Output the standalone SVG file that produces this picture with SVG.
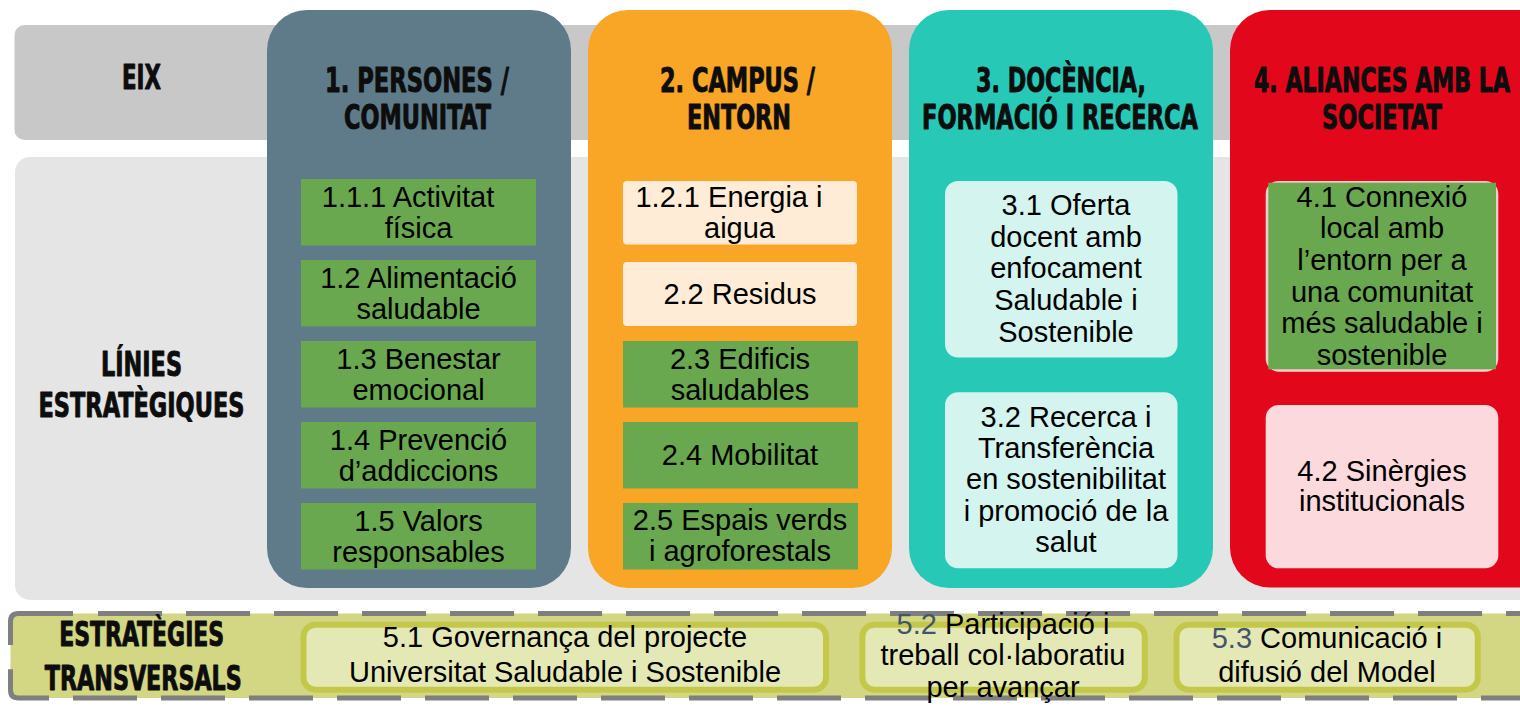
<svg xmlns="http://www.w3.org/2000/svg" width="1520" height="706" viewBox="0 0 1520 706">
<style>
.hdr{font-family:"DejaVu Sans Condensed","DejaVu Sans",sans-serif;font-weight:700;font-size:33px;fill:#0d0d0d;stroke:#0d0d0d;stroke-width:0.9;stroke-linejoin:round;text-anchor:middle}
.t{font-family:"Liberation Sans",Arial,sans-serif;font-size:29px;fill:#000;text-anchor:middle}
.g{fill:#6aa84f}
.cream{fill:#ffecd6}
.teal{fill:#d3f4ef}
.pink{fill:#fcd9dc}
.col{stroke:none}
.dash{fill:none;stroke:#7f7f7f;stroke-width:5}
.sbox{fill:#e4e8b5;stroke:#c3c84b;stroke-width:6}
.num{fill:#44546a}
</style>
<rect width="1520" height="706" fill="#ffffff"/>
<g id="bands">
<rect x="14.5" y="25" width="1530" height="115" rx="10" fill="#c9c8c9"/>
<rect x="15" y="157" width="1530" height="443" rx="15" fill="#e5e5e5"/>
</g>
<g id="row-labels">
<text class="hdr" x="141.5" y="88.5" textLength="39" lengthAdjust="spacingAndGlyphs">EIX</text>
<text class="hdr" x="141.5" y="376" textLength="81" lengthAdjust="spacingAndGlyphs">LÍNIES</text>
<text class="hdr" x="141.5" y="417" textLength="206" lengthAdjust="spacingAndGlyphs">ESTRATÈGIQUES</text>
</g>
<g id="col1">
<rect class="col" x="267" y="10" width="304" height="578" rx="40" fill="#5f7b8a"/>
<text class="hdr" x="417" y="92" textLength="184" lengthAdjust="spacingAndGlyphs">1. PERSONES /</text>
<text class="hdr" x="417.5" y="128.5" textLength="147" lengthAdjust="spacingAndGlyphs">COMUNITAT</text>
</g>
<g id="box-1-1-1"><rect class="g" x="301" y="179" width="235" height="66.5"/><text class="t" x="408" y="207">1.1.1 Activitat</text><text class="t" x="418.5" y="238">física</text></g>
<g id="box-1-2"><rect class="g" x="301" y="260" width="235" height="66.5"/><text class="t" x="418.5" y="288">1.2 Alimentació</text><text class="t" x="418.5" y="319">saludable</text></g>
<g id="box-1-3"><rect class="g" x="301" y="341" width="235" height="66.5"/><text class="t" x="418.5" y="369">1.3 Benestar</text><text class="t" x="418.5" y="400">emocional</text></g>
<g id="box-1-4"><rect class="g" x="301" y="422" width="235" height="66.5"/><text class="t" x="418.5" y="450">1.4 Prevenció</text><text class="t" x="418.5" y="481">d’addiccions</text></g>
<g id="box-1-5"><rect class="g" x="301" y="503" width="235" height="66.5"/><text class="t" x="418.5" y="531">1.5 Valors</text><text class="t" x="418.5" y="562">responsables</text></g>
<g id="col2">
<rect class="col" x="588" y="10" width="304" height="578" rx="40" fill="#f9a526"/>
<text class="hdr" x="737.5" y="92" textLength="155" lengthAdjust="spacingAndGlyphs">2. CAMPUS /</text>
<text class="hdr" x="739" y="128.5" textLength="104" lengthAdjust="spacingAndGlyphs">ENTORN</text>
</g>
<g id="box-1-2-1"><rect class="cream" x="623" y="181" width="234" height="63.5" rx="4"/><text class="t" x="729" y="207">1.2.1 Energia i</text><text class="t" x="739.5" y="238">aigua</text></g>
<g id="box-2-2"><rect class="cream" x="623" y="262" width="234" height="64" rx="4"/><text class="t" x="740" y="303.5">2.2 Residus</text></g>
<g id="box-2-3"><rect class="g" x="623" y="341" width="235" height="66.5"/><text class="t" x="740" y="368.5">2.3 Edificis</text><text class="t" x="740" y="399.5">saludables</text></g>
<g id="box-2-4"><rect class="g" x="623" y="422" width="235" height="66.5"/><text class="t" x="740" y="464.5">2.4 Mobilitat</text></g>
<g id="box-2-5"><rect class="g" x="623" y="503" width="235" height="66.5"/><text class="t" x="740" y="530">2.5 Espais verds</text><text class="t" x="740" y="561">i agroforestals</text></g>
<g id="col3">
<rect class="col" x="909" y="10" width="304" height="578" rx="40" fill="#27c8b6"/>
<text class="hdr" x="1061" y="92" textLength="170" lengthAdjust="spacingAndGlyphs">3. DOCÈNCIA,</text>
<text class="hdr" x="1060" y="128.5" textLength="276" lengthAdjust="spacingAndGlyphs">FORMACIÓ I RECERCA</text>
</g>
<g id="box-3-1"><rect class="teal" x="945" y="181" width="232.5" height="176.5" rx="13"/>
<text class="t" x="1066" y="215">3.1 Oferta</text><text class="t" x="1066" y="246.7">docent amb</text><text class="t" x="1066" y="278.3">enfocament</text><text class="t" x="1066" y="310">Saludable i</text><text class="t" x="1066" y="341.7">Sostenible</text></g>
<g id="box-3-2"><rect class="teal" x="945" y="392.3" width="232.5" height="176" rx="13"/>
<text class="t" x="1066" y="426.7">3.2 Recerca i</text><text class="t" x="1066" y="457.7">Transferència</text><text class="t" x="1066" y="489.3">en sostenibilitat</text><text class="t" x="1066" y="521">i promoció de la</text><text class="t" x="1066" y="551.7">salut</text></g>
<g id="col4">
<rect class="col" x="1230" y="10" width="330" height="577.5" rx="40" fill="#e3071c"/>
<text class="hdr" x="1382" y="92" textLength="256" lengthAdjust="spacingAndGlyphs">4. ALIANCES AMB LA</text>
<text class="hdr" x="1382" y="128.5" textLength="120" lengthAdjust="spacingAndGlyphs">SOCIETAT</text>
</g>
<g id="box-4-1"><rect x="1265.7" y="181" width="232.6" height="190.7" rx="13" fill="#f3d0cb"/><rect class="g" x="1268.3" y="182.7" width="227.7" height="186.6"/>
<text class="t" x="1382" y="206.7">4.1 Connexió</text><text class="t" x="1382" y="238.3">local amb</text><text class="t" x="1382" y="270">l’entorn per a</text><text class="t" x="1382" y="301.7">una comunitat</text><text class="t" x="1382" y="333.3">més saludable i</text><text class="t" x="1382" y="365">sostenible</text></g>
<g id="box-4-2"><rect class="pink" x="1265.7" y="405" width="232.6" height="163.3" rx="13"/>
<text class="t" x="1382" y="480.7">4.2 Sinèrgies</text><text class="t" x="1382" y="511">institucionals</text></g>
<g id="transversal-band">
<rect x="10.5" y="613.5" width="1530" height="84.5" rx="8" fill="#d3d682"/>
<path class="dash" d="M10.5,645 V621.5 Q10.5,613.5 18.5,613.5 H73"/>
<path class="dash" d="M98,613.5 H1530" stroke-dasharray="64 24"/>
<path class="dash" d="M1530,698 H18.5 Q10.5,698 10.5,690 V660" stroke-dasharray="64 24" stroke-dashoffset="15"/>
<text class="hdr" x="141.7" y="646" textLength="165" lengthAdjust="spacingAndGlyphs">ESTRATÈGIES</text>
<text class="hdr" x="143.3" y="690" textLength="197" lengthAdjust="spacingAndGlyphs">TRANSVERSALS</text>
</g>
<g id="box-5-1"><rect class="sbox" x="303.5" y="624.7" width="522.5" height="65" rx="12"/>
<text class="t" x="565" y="647">5.1 Governança del projecte</text><text class="t" x="565" y="682">Universitat Saludable i Sostenible</text></g>
<g id="box-5-2"><rect class="sbox" x="862.4" y="624.7" width="282.4" height="65" rx="12"/>
<text class="t" x="1003" y="633.5"><tspan class="num">5.2</tspan> Participació i</text><text class="t" x="1003" y="665">treball col·laboratiu</text><text class="t" x="1003" y="697">per avançar</text></g>
<g id="box-5-3"><rect class="sbox" x="1176.5" y="624.7" width="301.3" height="65" rx="12"/>
<text class="t" x="1327" y="648.3"><tspan class="num">5.3</tspan> Comunicació i</text><text class="t" x="1327" y="682">difusió del Model</text></g>
<g id="connectors"/>
</svg>
